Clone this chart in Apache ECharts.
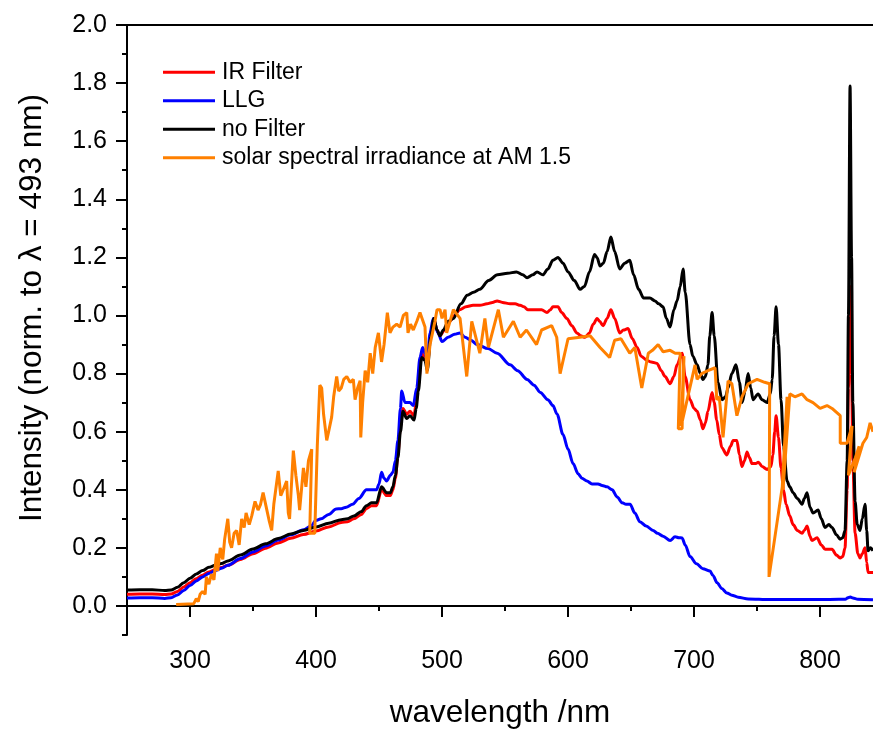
<!DOCTYPE html>
<html>
<head>
<meta charset="utf-8">
<script src="https://cdn.jsdelivr.net/npm/echarts@6/dist/echarts.min.js"></script>
<style>
  html, body { margin: 0; padding: 0; background: #fff; }
  #chart { width: 873px; height: 729px; }
</style>
</head>
<body>
<div id="chart"></div>
<script>
// tick values
var xMajor = [300, 400, 500, 600, 700, 800];
var xMinor = [350, 450, 550, 650, 750];
var yMajor = [0, 0.2, 0.4, 0.6, 0.8, 1.0, 1.2, 1.4, 1.6, 1.8, 2.0];
var yMinor = [-0.1, 0.1, 0.3, 0.5, 0.7, 0.9, 1.1, 1.3, 1.5, 1.7, 1.9];

var seriesNames = ['IR Filter', 'LLG', 'no Filter', 'solar spectral irradiance at AM 1.5'];

// [wavelength nm, intensity]
var irFilter = [[250,0.04],[260,0.041],[270,0.041],[280,0.039],[285,0.041],[290,0.05],[295,0.065],[300,0.08],[305,0.094],[310,0.106],[315,0.117],[320,0.125],[325,0.132],[330,0.14],[340,0.16],[350,0.18],[360,0.199],[370,0.217],[380,0.233],[390,0.246],[400,0.258],[410,0.272],[420,0.287],[425,0.29],[430,0.30],[436,0.315],[440,0.335],[444,0.345],[448,0.345],[452,0.40],[456,0.38],[459,0.38],[461,0.40],[463,0.44],[465,0.52],[467,0.62],[469,0.68],[472,0.66],[474.6,0.67],[477.8,0.655],[479.5,0.70],[481.2,0.76],[483.9,0.87],[486.5,0.855],[488.3,0.825],[491,0.935],[493.5,0.99],[496,0.95],[498.4,0.93],[502,0.95],[506,0.98],[510,1.0],[514,1.02],[519,1.03],[524.6,1.035],[530,1.035],[535.7,1.04],[540,1.045],[543.7,1.05],[548,1.045],[554,1.04],[558,1.04],[562,1.035],[565,1.03],[568,1.02],[572,1.02],[575.4,1.02],[579,1.02],[583.3,1.01],[586,1.02],[588,1.03],[592,1.03],[595,1.01],[599,0.99],[603,0.965],[607,0.94],[610,0.93],[613.5,0.925],[617,0.94],[620,0.97],[623,0.99],[625,0.98],[627.8,0.965],[631,0.99],[634,1.02],[637,0.99],[641,0.94],[644,0.95],[647.6,0.955],[651,0.92],[654.8,0.89],[658,0.86],[662.7,0.845],[666,0.84],[670.6,0.835],[674,0.81],[677,0.79],[681,0.765],[684,0.79],[686.5,0.83],[690.5,0.87],[692.9,0.79],[696.8,0.71],[700,0.68],[702.4,0.67],[705,0.64],[707,0.61],[709,0.63],[711,0.67],[714.3,0.735],[716,0.70],[718,0.64],[720,0.59],[722,0.545],[726,0.52],[729,0.55],[731,0.57],[734,0.57],[736,0.52],[738,0.48],[740,0.50],[742,0.53],[744,0.51],[746,0.49],[749,0.49],[751,0.495],[754,0.48],[758,0.47],[761,0.48],[762.5,0.52],[764,0.60],[765.1,0.655],[767,0.58],[769,0.475],[771,0.40],[773,0.35],[776,0.31],[778.6,0.28],[782,0.26],[785.7,0.25],[787.5,0.26],[789.7,0.275],[792,0.24],[793.6,0.225],[797.6,0.235],[801,0.21],[804,0.195],[809.5,0.195],[813,0.175],[815.9,0.165],[818,0.17],[819.8,0.2],[821.5,0.4],[822.5,0.75],[823.8,1.10],[825,0.8],[826,0.5],[827.8,0.25],[830,0.18],[831.7,0.165],[833.5,0.18],[835.7,0.2],[837,0.15],[838.1,0.115],[842,0.115]];

var llg = [[250,0.027],[260,0.028],[270,0.028],[280,0.026],[285,0.028],[290,0.038],[295,0.053],[300,0.07],[305,0.086],[310,0.10],[315,0.112],[320,0.122],[325,0.13],[330,0.14],[340,0.163],[350,0.186],[360,0.206],[370,0.227],[380,0.245],[390,0.262],[396,0.275],[400,0.295],[404,0.30],[410,0.315],[416,0.334],[420,0.335],[424,0.34],[429,0.35],[434,0.37],[440,0.40],[444,0.40],[448,0.40],[450,0.42],[452,0.46],[454,0.44],[456,0.43],[459,0.45],[461,0.46],[463,0.50],[465,0.57],[467,0.68],[468,0.74],[470.6,0.70],[474.6,0.70],[477.2,0.69],[479.9,0.75],[482.5,0.855],[484.6,0.89],[486.5,0.87],[488.3,0.845],[490.5,0.94],[493,0.99],[496.8,0.94],[500,0.91],[504.8,0.925],[510,0.935],[514.3,0.94],[518.3,0.925],[523,0.915],[527.8,0.90],[536.5,0.886],[543.7,0.87],[554,0.83],[560,0.81],[567.5,0.78],[573,0.76],[578,0.735],[584,0.71],[588,0.69],[591.3,0.66],[596,0.59],[600,0.54],[604,0.49],[608,0.455],[611,0.44],[615,0.43],[619,0.42],[623.8,0.42],[627,0.415],[631,0.41],[635,0.40],[639,0.375],[643,0.355],[646,0.35],[649.2,0.35],[653,0.32],[657,0.29],[662,0.275],[667.5,0.26],[671,0.25],[675.4,0.24],[681,0.225],[684.9,0.238],[688,0.235],[690.5,0.234],[693,0.21],[696.8,0.17],[702,0.145],[707,0.128],[712.7,0.12],[715,0.105],[718.3,0.08],[722,0.06],[726,0.045],[730,0.037],[735,0.03],[743,0.024],[760,0.022],[780,0.022],[800,0.022],[815,0.023],[820,0.023],[822,0.028],[824,0.031],[826,0.027],[830,0.023],[842,0.021]];

var noFilter = [[250,0.055],[260,0.056],[270,0.056],[280,0.053],[285,0.055],[290,0.064],[295,0.08],[300,0.095],[305,0.11],[310,0.122],[315,0.133],[320,0.14],[325,0.146],[330,0.155],[340,0.175],[350,0.196],[360,0.214],[370,0.232],[380,0.248],[390,0.26],[400,0.272],[410,0.285],[420,0.297],[425,0.30],[430,0.31],[436,0.325],[440,0.345],[444,0.355],[448,0.355],[452,0.41],[456,0.39],[459,0.39],[461,0.41],[463,0.45],[465,0.51],[467,0.60],[469,0.67],[472,0.645],[474.6,0.655],[477.8,0.64],[479.5,0.68],[481.2,0.74],[483.9,0.855],[486.5,0.845],[488.3,0.81],[491,0.925],[493.5,0.99],[496,0.95],[498.4,0.93],[501,0.95],[505,0.98],[509,0.99],[515,1.04],[520,1.07],[525,1.08],[530,1.09],[537,1.12],[544,1.14],[552,1.145],[559,1.15],[564,1.14],[567.5,1.13],[572,1.14],[575.4,1.15],[580,1.14],[584,1.16],[588,1.19],[592,1.20],[596,1.18],[600,1.15],[605,1.12],[609.5,1.09],[613,1.10],[617,1.15],[621,1.21],[623,1.2],[625.4,1.17],[628,1.18],[631,1.22],[634,1.27],[637,1.22],[641,1.16],[645,1.18],[649,1.19],[652,1.14],[656,1.09],[660,1.06],[665,1.06],[669,1.05],[672,1.04],[675.4,1.03],[678,0.99],[681,0.96],[684,1.02],[686.5,1.05],[689,1.10],[691.3,1.16],[693,1.08],[696.8,0.90],[699,0.86],[702.4,0.83],[705,0.80],[707,0.78],[709,0.79],[711,0.83],[712.5,0.93],[714.3,1.01],[716,0.93],[719,0.77],[722.2,0.71],[725,0.72],[727,0.75],[730,0.80],[733.3,0.83],[736,0.77],[738.1,0.70],[740.5,0.74],[742.9,0.80],[745,0.75],[746.8,0.71],[750.8,0.73],[754,0.71],[757.9,0.70],[760.5,0.73],[762,0.78],[763.5,0.93],[765.1,1.03],[767,0.90],[769,0.71],[771,0.55],[773.8,0.43],[776,0.41],[778.6,0.39],[782,0.37],[785.7,0.35],[787.5,0.37],[789.7,0.39],[792,0.34],[794.4,0.32],[798.4,0.33],[801,0.30],[803.9,0.27],[807,0.28],[809.5,0.27],[813,0.245],[815.9,0.23],[818,0.235],[819.8,0.26],[821.5,0.5],[822.5,1.0],[823.8,1.79],[825,1.2],[826,0.7],[827.8,0.36],[829.5,0.28],[831.7,0.26],[833.5,0.3],[835.7,0.35],[837,0.26],[838.1,0.19],[840,0.20],[842,0.19]];

// AM 1.5 data is not sorted by wavelength, so the line runs back and forth
var solar = [[289,0.005],[303,0.008],[305,0.025],[306.5,0.015],[308,0.04],[310,0.05],[312,0.04],[313,0.1],[315,0.075],[317,0.11],[319,0.09],[321,0.18],[322,0.12],[324,0.2],[326,0.16],[327.5,0.23],[330,0.30],[331.5,0.22],[333,0.2],[335,0.25],[337,0.26],[339,0.21],[341,0.30],[343,0.27],[344.5,0.32],[347,0.28],[349,0.31],[351.6,0.36],[354,0.33],[356,0.35],[358,0.39],[361,0.33],[363,0.29],[364.8,0.26],[366.5,0.35],[370,0.465],[372,0.38],[374,0.40],[376.7,0.43],[378,0.32],[379,0.30],[382,0.535],[384,0.45],[386,0.38],[387,0.33],[390,0.475],[392,0.41],[394,0.50],[396.6,0.54],[395,0.25],[399,0.25],[401,0.55],[403,0.76],[404.5,0.75],[406,0.66],[408.5,0.57],[410,0.60],[412.4,0.65],[414,0.72],[416.4,0.79],[418,0.74],[420,0.75],[422,0.78],[424.4,0.79],[427,0.77],[429.6,0.78],[431,0.71],[433,0.75],[435,0.775],[435.5,0.58],[437,0.70],[439,0.81],[441,0.77],[443,0.87],[445,0.80],[447,0.89],[449.5,0.94],[452,0.84],[454,0.90],[456.6,1.01],[458.7,0.94],[461,0.96],[464,0.97],[466.7,0.96],[469.3,1.0],[472,1.01],[473,0.94],[475,0.97],[477.2,0.95],[480,0.98],[482.5,1.01],[484,1.01],[486.5,0.96],[488,0.80],[489,0.80],[490.5,0.90],[494.4,0.98],[496,1.02],[498.4,1.02],[500,0.99],[502.4,1.02],[503.7,0.94],[509,1.02],[514.3,0.99],[519.6,0.79],[523.6,0.98],[530,0.87],[534,0.99],[536.8,0.89],[544.7,1.02],[548.7,0.925],[556.6,0.98],[562,0.925],[567,0.95],[575,0.90],[579,0.95],[587,0.965],[591,0.925],[593.7,0.80],[600,0.92],[609.5,0.925],[617.5,0.93],[625.4,0.89],[633,0.855],[637,0.915],[642,0.92],[649,0.87],[653,0.89],[658.5,0.75],[663.7,0.87],[667,0.88],[671.5,0.90],[675.5,0.875],[681,0.88],[685,0.87],[689,0.87],[687.5,0.61],[690.5,0.61],[692,0.86],[689.8,0.62],[700.8,0.83],[702.4,0.78],[706,0.80],[711,0.81],[716.7,0.82],[718,0.71],[720,0.72],[723,0.58],[727,0.775],[730,0.765],[734,0.655],[738,0.72],[743,0.765],[750,0.78],[756,0.77],[760,0.765],[759.5,0.10],[770,0.41],[773.8,0.72],[770.6,0.40],[776,0.73],[780,0.72],[785.7,0.73],[789.7,0.71],[794.4,0.70],[800,0.68],[805.5,0.69],[809.5,0.68],[816,0.655],[816,0.56],[821.4,0.56],[825.4,0.62],[822.5,0.45],[828,0.51],[831,0.55],[827,0.46],[834,0.56],[837,0.58],[839.7,0.63],[842,0.60]];

var colors = ['#ff0000', '#0000ff', '#000000', '#ff8000'];
var font = 'Liberation Sans, Arial, sans-serif';

function line(name, data, color, smooth) {
    return {
        name: name,
        type: 'line',
        data: data,
        symbol: 'none',
        smooth: smooth,
        smoothMonotone: smooth ? 'x' : undefined,
        lineStyle: { color: color, width: 3 },
        itemStyle: { color: color },
        clip: true
    };
}

var chart = echarts.init(document.getElementById('chart'));
chart.setOption({
    animation: false,
    backgroundColor: '#fff',
    grid: { left: 127, right: 0, top: 25, bottom: 94, containLabel: false, outerBoundsMode: 'none' },
    legend: {
        orient: 'vertical',
        left: 163,
        top: 59,
        padding: 0,
        icon: 'rect',
        itemWidth: 52,
        itemHeight: 3,
        itemGap: 2,
        data: seriesNames,
        textStyle: { fontFamily: font, fontSize: 23, lineHeight: 26.5, color: '#000', padding: [0, 0, 0, 2] }
    },
    xAxis: [
        {
            type: 'value', min: 250, max: 842, position: 'bottom',
            name: 'wavelength /nm', nameLocation: 'middle', nameGap: 62,
            nameTextStyle: { fontFamily: font, fontSize: 31.5, color: '#000' },
            axisLine: { show: true, lineStyle: { color: '#000', width: 2 } },
            axisTick: { show: true, length: 11, customValues: xMajor, lineStyle: { color: '#000', width: 2 } },
            axisLabel: { customValues: xMajor, fontFamily: font, fontSize: 25, color: '#000', margin: 14 },
            splitLine: { show: false }
        },
        {
            type: 'value', min: 250, max: 842, position: 'bottom',
            axisLine: { show: false },
            axisTick: { show: true, length: 5, customValues: xMinor, lineStyle: { color: '#000', width: 2 } },
            axisLabel: { show: false },
            splitLine: { show: false }
        },
        {
            type: 'value', min: 250, max: 842, position: 'top',
            axisLine: { show: true, lineStyle: { color: '#000', width: 2 } },
            axisTick: { show: false },
            axisLabel: { show: false },
            splitLine: { show: false }
        }
    ],
    yAxis: [
        {
            type: 'value', min: -0.1, max: 2.0, position: 'left',
            name: 'Intensity (norm. to λ = 493 nm)', nameLocation: 'middle', nameGap: 79,
            nameTextStyle: { fontFamily: font, fontSize: 31.5, color: '#000', padding: [0, 0, 0, 44] },
            axisLine: { show: true, lineStyle: { color: '#000', width: 2 } },
            axisTick: { show: true, length: 11, customValues: yMajor, lineStyle: { color: '#000', width: 2 } },
            axisLabel: {
                customValues: yMajor, fontFamily: font, fontSize: 25, color: '#000', margin: 20,
                formatter: function (v) { return v.toFixed(1); }
            },
            splitLine: { show: false }
        },
        {
            type: 'value', min: -0.1, max: 2.0, position: 'left',
            axisLine: { show: false },
            axisTick: { show: true, length: 5, customValues: yMinor, lineStyle: { color: '#000', width: 2 } },
            axisLabel: { show: false },
            splitLine: { show: false }
        }
    ],
    series: [
        line(seriesNames[0], irFilter, colors[0], 0.3),
        line(seriesNames[1], llg, colors[1], 0.3),
        line(seriesNames[2], noFilter, colors[2], 0.3),
        line(seriesNames[3], solar, colors[3], false)
    ]
});
</script>
</body>
</html>
